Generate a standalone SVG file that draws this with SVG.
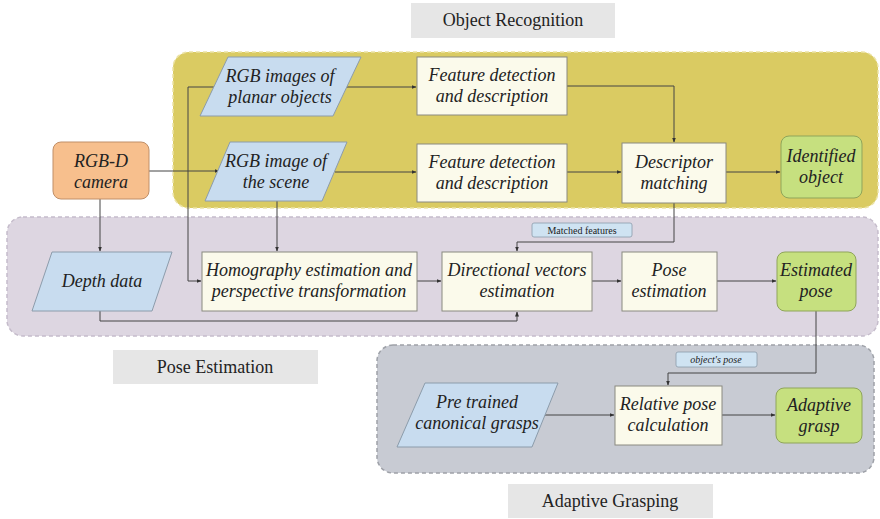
<svg xmlns="http://www.w3.org/2000/svg" width="880" height="519" viewBox="0 0 880 519">
<defs>
<marker id="ah" viewBox="0 0 10 10" refX="9" refY="5" markerWidth="5" markerHeight="5" orient="auto"><path d="M0,1 L10,5 L0,9 z" fill="#333"/></marker>
<style>
.grp{stroke-width:1.5;stroke-dasharray:4 3}
.t{font-family:'Liberation Serif','DejaVu Serif',serif;font-style:italic;font-size:18px;fill:#222;text-anchor:middle}
.title{font-family:'Liberation Serif','DejaVu Serif',serif;font-size:18px;fill:#222;text-anchor:middle}
.small{font-family:'Liberation Serif','DejaVu Serif',serif;font-size:10px;fill:#222;text-anchor:middle}
.para{fill:#c8dcef;stroke:#8c9cab;stroke-width:1}
.box{fill:#fbfaeb;stroke:#8a8a80;stroke-width:1}
.green{fill:#c6e07f;stroke:#8fa55a;stroke-width:1}
.orange{fill:#f7bf8d;stroke:#c08f68;stroke-width:1}
.lbl{fill:#e6e6e6}
.conn path{fill:none;stroke:#444;stroke-width:1;marker-end:url(#ah)}
</style>
</defs>
<rect width="880" height="519" fill="#fff"/>
<g id="group-object-recognition">
<rect x="173" y="52" width="705" height="156" rx="16" class="grp" fill="#dacb62" stroke="#ece3a6"/>
<rect x="411" y="3" width="204" height="35" class="lbl"/>
<text x="513" y="26" class="title">Object Recognition</text>
</g>
<g id="group-pose-estimation">
<rect x="7" y="217" width="871" height="119" rx="16" class="grp" fill="#ddd6e1" stroke="#c5bccb"/>
<rect x="113" y="350" width="205" height="34" class="lbl"/>
<text x="215" y="373" class="title">Pose Estimation</text>
</g>
<g id="group-adaptive-grasping">
<rect x="377" y="345" width="497" height="128" rx="16" class="grp" fill="#c8cbd3" stroke="#9ea1a8"/>
<rect x="508" y="484" width="205" height="34" class="lbl"/>
<text x="610" y="507" class="title">Adaptive Grasping</text>
</g>
<g id="connectors" class="conn">
<path d="M149,171 H219"/>
<path d="M214,87 H188 V281 H201"/>
<path d="M347,87 H416"/>
<path d="M335,172 H416"/>
<path d="M567,86 H674 V142"/>
<path d="M567,172 H621"/>
<path d="M726,172 H780"/>
<path d="M674,203 V242 H517 V251"/>
<path d="M100,199 V251"/>
<path d="M277,201 V251"/>
<path d="M100,311 V321 H517 V312"/>
<path d="M417,281 H441"/>
<path d="M592,281 H621"/>
<path d="M717,281 H776"/>
<path d="M816,311 V373 H668 V385"/>
<path d="M545,415 H614"/>
<path d="M722,415 H775"/>
</g>
<g id="rgbd-camera">
<rect x="53" y="142" width="96" height="57" rx="8" class="orange"/>
<text x="101" y="167" class="t">RGB-D</text>
<text x="101" y="188" class="t">camera</text>
</g>
<g id="rgb-planar">
<polygon points="228,57 361,57 333,116 200,116" class="para"/>
<text x="280" y="82" class="t">RGB images of</text>
<text x="280" y="103" class="t">planar objects</text>
</g>
<g id="rgb-scene">
<polygon points="230,142 347,142 322,201 205,201" class="para"/>
<text x="276" y="167" class="t">RGB image of</text>
<text x="276" y="188" class="t">the scene</text>
</g>
<g id="feature-1">
<rect x="417" y="57" width="150" height="58" class="box"/>
<text x="492" y="81" class="t">Feature detection</text>
<text x="492" y="102" class="t">and description</text>
</g>
<g id="feature-2">
<rect x="417" y="144" width="150" height="58" class="box"/>
<text x="492" y="168" class="t">Feature detection</text>
<text x="492" y="189" class="t">and description</text>
</g>
<g id="descriptor-matching">
<rect x="622" y="143" width="104" height="60" class="box"/>
<text x="674" y="168" class="t">Descriptor</text>
<text x="674" y="189" class="t">matching</text>
</g>
<g id="identified-object">
<rect x="781" y="136" width="81" height="62" rx="8" class="green"/>
<text x="821" y="162" class="t">Identified</text>
<text x="821" y="183" class="t">object</text>
</g>
<g id="depth-data">
<polygon points="52,252 172,252 152,311 32,311" class="para"/>
<text x="102" y="287" class="t">Depth data</text>
</g>
<g id="homography">
<rect x="202" y="252" width="215" height="59" class="box"/>
<text x="309" y="276" class="t">Homography estimation and</text>
<text x="309" y="297" class="t">perspective transformation</text>
</g>
<g id="directional-vectors">
<rect x="442" y="252" width="150" height="59" class="box"/>
<text x="517" y="276" class="t">Directional vectors</text>
<text x="517" y="297" class="t">estimation</text>
</g>
<g id="pose-estimation">
<rect x="622" y="252" width="95" height="59" class="box"/>
<text x="669" y="276" class="t">Pose</text>
<text x="669" y="297" class="t">estimation</text>
</g>
<g id="estimated-pose">
<rect x="777" y="252" width="79" height="59" rx="8" class="green"/>
<text x="816" y="276" class="t">Estimated</text>
<text x="816" y="297" class="t">pose</text>
</g>
<g id="matched-features-label">
<rect x="532" y="223" width="100" height="14" rx="2" fill="#cfe3f2" stroke="#8c9cab" stroke-width="0.8"/>
<text x="582" y="234" class="small">Matched features</text>
</g>
<g id="pretrained-grasps">
<polygon points="425,383 558,383 532,447 397,447" class="para"/>
<text x="477" y="408" class="t">Pre trained</text>
<text x="477" y="429" class="t">canonical grasps</text>
</g>
<g id="relative-pose">
<rect x="615" y="386" width="107" height="59" class="box"/>
<text x="668" y="410" class="t">Relative pose</text>
<text x="668" y="431" class="t">calculation</text>
</g>
<g id="adaptive-grasp">
<rect x="776" y="388" width="86" height="55" rx="8" class="green"/>
<text x="819" y="411" class="t">Adaptive</text>
<text x="819" y="432" class="t">grasp</text>
</g>
<g id="objects-pose-label">
<rect x="676" y="352" width="81" height="15" rx="2" fill="#cfe3f2" stroke="#8c9cab" stroke-width="0.8"/>
<text x="716" y="363" class="small" font-style="italic">object's pose</text>
</g>
</svg>
